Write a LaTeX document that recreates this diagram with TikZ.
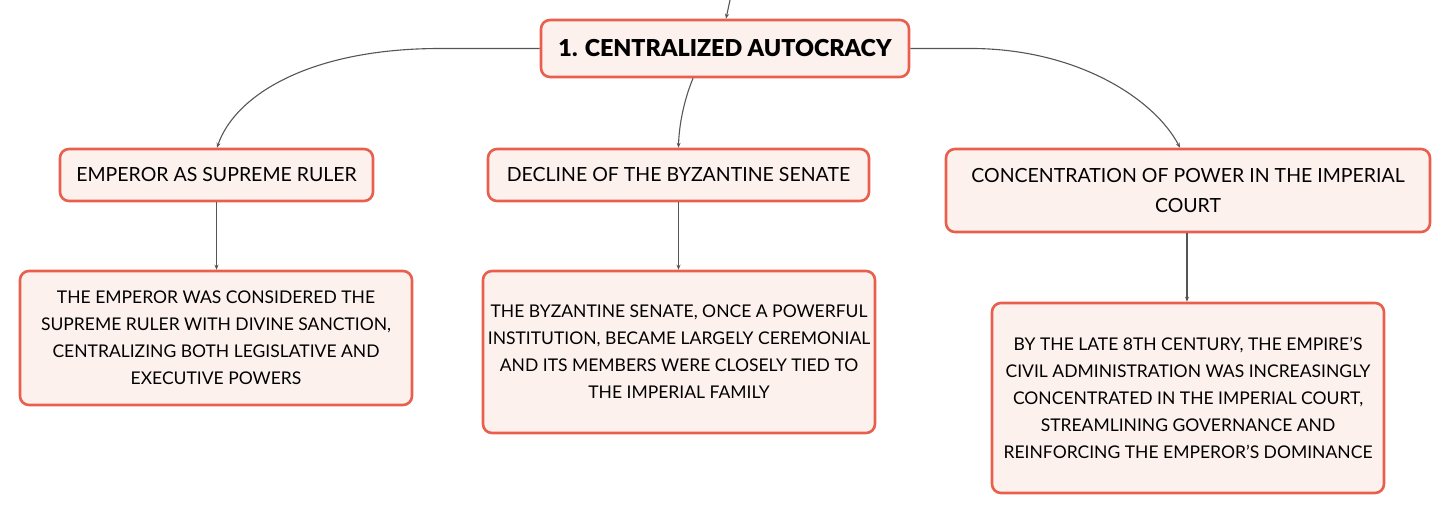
\documentclass[tikz,border=0pt]{standalone}
\usepackage{fontspec}
\setmainfont{Lato}
\newfontfamily\titlefont{Lato Black}
\usetikzlibrary{arrows.meta}
\definecolor{boxfill}{HTML}{FDF1EE}
\definecolor{boxline}{HTML}{E8604D}
\definecolor{conn}{HTML}{555555}
\tikzset{
  box/.style={draw=boxline, fill=boxfill, line width=2.6pt, rounded corners=9pt, align=center, inner sep=0pt, font=\fontsize{17.5}{27}\selectfont},
  childbox/.style={box, font=\fontsize{19.5}{30}\selectfont},
  titlebox/.style={box, font=\fontsize{23.3}{27}\selectfont\titlefont},
  conn/.style={draw=conn, line width=1.1pt, -{Stealth[length=5pt,width=4pt]}},
}
\begin{document}
\begin{tikzpicture}[x=1pt,y=1pt]
\useasboundingbox (0,0) rectangle (1451,-514);
\node[titlebox, minimum width=368pt, minimum height=57pt] (top) at (725,-48.5) {1. CENTRALIZED AUTOCRACY};
\node[childbox, minimum width=313pt, minimum height=52pt] (c1) at (216.5,-175) {EMPEROR AS SUPREME RULER};
\node[childbox, minimum width=381pt, minimum height=52pt] (c2) at (678.5,-175) {DECLINE OF THE BYZANTINE SENATE};
\node[childbox, minimum width=484pt, minimum height=83pt] (c3) at (1188,-190.5) {CONCENTRATION OF POWER IN THE IMPERIAL\\COURT};
\node[box, minimum width=392pt, minimum height=134pt] (l1) at (216,-338) {THE EMPEROR WAS CONSIDERED THE\\SUPREME RULER WITH DIVINE SANCTION,\\CENTRALIZING BOTH LEGISLATIVE AND\\EXECUTIVE POWERS};
\node[box, minimum width=392pt, minimum height=162pt] (l2) at (679,-352) {THE BYZANTINE SENATE, ONCE A POWERFUL\\INSTITUTION, BECAME LARGELY CEREMONIAL\\AND ITS MEMBERS WERE CLOSELY TIED TO\\THE IMPERIAL FAMILY};
\node[box, minimum width=392pt, minimum height=190pt] (l3) at (1188,-398) {BY THE LATE 8TH CENTURY, THE EMPIRE'S\\CIVIL ADMINISTRATION WAS INCREASINGLY\\CONCENTRATED IN THE IMPERIAL COURT,\\STREAMLINING GOVERNANCE AND\\REINFORCING THE EMPEROR'S DOMINANCE};
\coordinate (in) at (730,0);
\draw[conn] (in) -- ([xshift=1pt]top.north);
\draw[conn] (top.west) -- (440,-48.5) .. controls (310,-48.5) and (235,-95) .. ([xshift=0.5pt]c1.north);
\draw[conn] (top.east) -- (975,-48.5) .. controls (1080,-50) and (1155,-100) .. ([xshift=-8pt]c3.north);
\draw[conn] ([xshift=-32pt]top.south) .. controls (684,-100) and (679,-125) .. (c2.north);
\draw[conn] (c1.south) -- (c1.south |- l1.north);
\draw[conn] (c2.south) -- (c2.south |- l2.north);
\draw[conn] ([xshift=-1pt]c3.south) -- ([xshift=-1pt]c3.south |- l3.north);
\end{tikzpicture}
\end{document}
